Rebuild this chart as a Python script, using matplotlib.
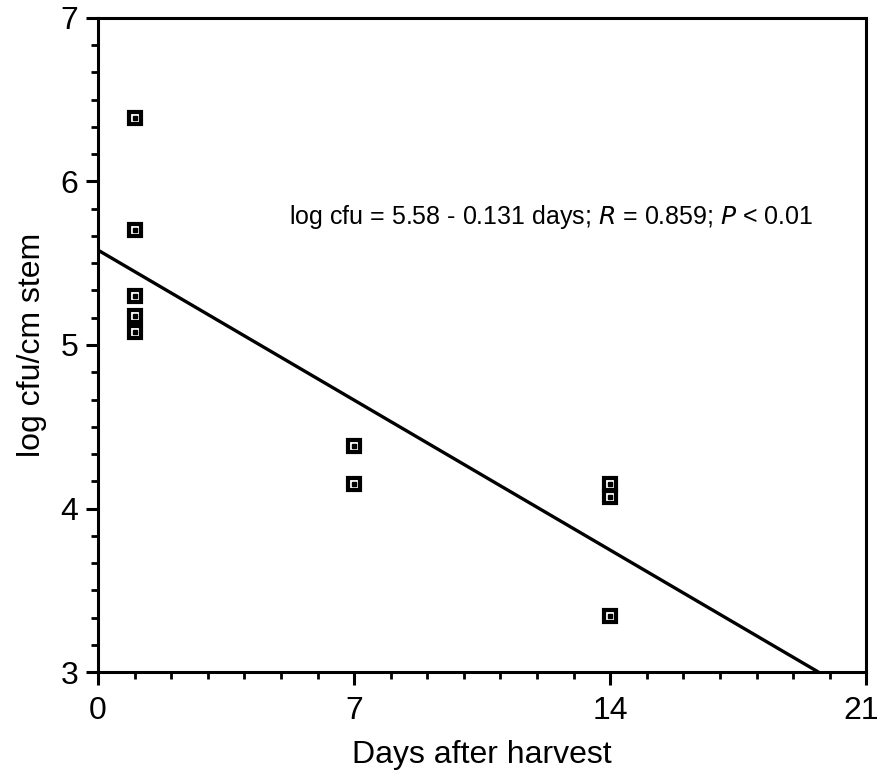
import numpy as np
import matplotlib.pyplot as plt
from matplotlib.ticker import MultipleLocator
from matplotlib.transforms import ScaledTranslation

plt.rcParams['font.family'] = ['Liberation Sans', 'DejaVu Sans']

# dados
dias = [1, 1, 1, 1, 1, 7, 7, 14, 14, 14]
log_cfu = [6.39, 5.70, 5.30, 5.18, 5.08, 4.385, 4.15, 4.152, 4.07, 3.34]
ticks_x = [0, 7, 14, 21]

# regressão: log cfu = 5.58 - 0.131 dias
intercepto = 5.58
inclinacao = -0.131

fig = plt.figure(figsize=(8.8, 7.77), dpi=100)
ax = fig.add_axes([0.1114, 0.135, 0.873, 0.842])

x_fim = (3 - intercepto) / inclinacao
x_linha = np.array([0, x_fim])
ax.plot(x_linha, intercepto + inclinacao * x_linha, '-', color='black', linewidth=2.4,
        solid_capstyle='butt')

ax.plot(dias, log_cfu, 's', markersize=8, markerfacecolor='white',
        markeredgecolor='black', markeredgewidth=3.0, linestyle='none')
ax.plot(dias, log_cfu, 's', markersize=2.2, color='black', linestyle='none')

ax.text(5.22, 5.78, 'log cfu = 5.58 - 0.131 days; $\\mathit{R}$ = 0.859; $\\mathit{P}$ < 0.01',
        fontsize=18, va='center', ha='left')

ax.set_xlim(0, 21)
ax.set_ylim(3, 7)
ax.set_xticks(ticks_x)
ax.xaxis.set_minor_locator(MultipleLocator(1))
ax.yaxis.set_major_locator(MultipleLocator(1))
ax.yaxis.set_minor_locator(MultipleLocator(1 / 6))

for lado in ax.spines.values():
    lado.set_linewidth(2.2)

ax.tick_params(which='major', direction='out', length=9, width=2.2, labelsize=23)
ax.tick_params(axis='x', which='major', pad=8)
ax.tick_params(axis='y', which='major', pad=5)
ax.tick_params(which='minor', direction='out', length=5, width=2.0)

# o "21" fica colado na borda direita, puxa um pouco pra esquerda
ultimo = ax.xaxis.get_major_ticks()[-1].label1
ultimo.set_transform(ultimo.get_transform() + ScaledTranslation(-4 / 72, 0, fig.dpi_scale_trans))

ax.set_xlabel('Days after harvest', fontsize=23, labelpad=10)
ax.set_ylabel('log cfu/cm stem', fontsize=23, labelpad=10)

plt.savefig('out.png', dpi=100)
